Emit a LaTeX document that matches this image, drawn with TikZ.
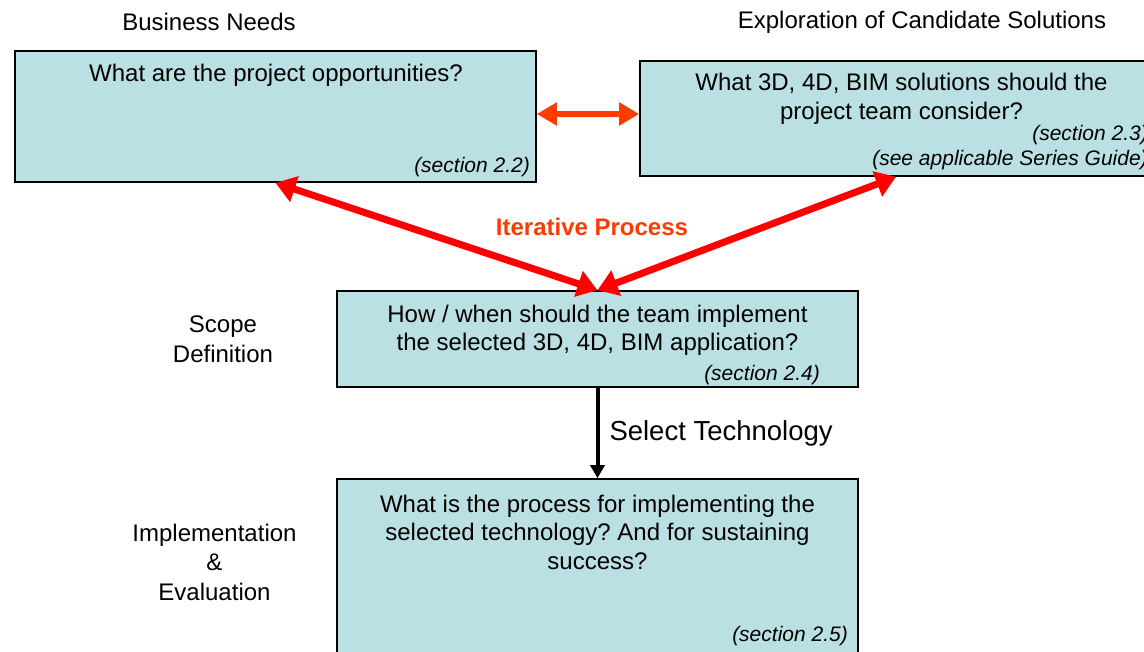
\documentclass[tikz,border=0pt]{standalone}
\usepackage{fontspec}
\setmainfont{Liberation Sans}
\usetikzlibrary{arrows.meta,positioning}
\definecolor{boxblue}{HTML}{BBE0E3}
\definecolor{iterorange}{HTML}{FF3C00}
\definecolor{iterred}{HTML}{FF0000}
\frenchspacing

\begin{document}
\begin{tikzpicture}[x=1pt,y=-1pt,
	qbox/.style={draw=black, line width=1.6pt, fill=boxblue, inner sep=0pt},
	qtext/.style={align=center, inner sep=0pt, font=\fontsize{24}{28.5}\selectfont},
	sect/.style={anchor=east, inner sep=0pt, font=\fontsize{21}{25}\selectfont\itshape},
	phase/.style={align=center, inner sep=0pt, font=\fontsize{24}{29.5}\selectfont},
	redarrow/.style={draw=iterred, line width=7pt,
		{Triangle[width=26pt,length=20pt]}-{Triangle[width=26pt,length=20pt]}}
]
	\useasboundingbox (0,0) rectangle (1144,652);
	\clip (0,0) rectangle (1144,652);
	% question boxes
	\node[qbox, minimum width=521pt, minimum height=131pt] (needs) at (275.5,116.5) {};
	\node[qbox, minimum width=512pt, minimum height=115pt] (explore) at (896,118.5) {};
	\node[qbox, minimum width=521pt, minimum height=96pt] (scope) at (597.5,339) {};
	\node[qbox, minimum width=521pt, minimum height=190pt] (impl) at (597.5,574) {};
	% texts in the boxes
	\node[qtext] (needsq) at (276,75) {What are the project opportunities?};
	\node[sect] (needss) at (530,167) {(section 2.2)};
	\node[qtext] (exploreq) at (901.5,99) {What 3D, 4D, BIM solutions should the\\project team consider?};
	\node[sect] (explores) at (1148,135) {(section 2.3)};
	\node[sect] (exploreg) at (1148,160) {(see applicable Series Guide)};
	\node[qtext] (scopeq) at (597.5,330.5) {How / when should the team implement\\the selected 3D, 4D, BIM application?};
	\node[sect] (scopes) at (820,375) {(section 2.4)};
	\node[qtext] (implq) at (597.5,532) {What is the process for implementing the\\selected technology? And for sustaining\\success?};
	\node[sect] (impls) at (848,636) {(section 2.5)};
	% headings
	\node[phase] (needsh) at (209,22) {Business Needs};
	\node[phase] (exploreh) at (922,22) {Exploration of Candidate Solutions};
	\node[phase] (scopeh) at (223,339) {Scope\\Definition};
	\node[phase] (implh) at (214.5,562) {Implementation\\\&\\Evaluation};
	% arrows
	\draw[draw=iterorange, line width=6pt,
		{Triangle[width=22pt,length=20pt]}-{Triangle[width=22pt,length=20pt]}]
		(needs.east |- 0,114) -- (explore.west |- 0,114);
	\draw[redarrow] (needs.south) -- (scope.north);
	\draw[redarrow] (explore.south) -- (scope.north);
	\node[text=iterorange, inner sep=0pt, font=\fontsize{24}{28}\selectfont\bfseries] (iter) at (592,227) {Iterative Process};
	\draw[line width=4pt, -{Triangle[width=14pt,length=13pt]}] (scope.south) -- (impl.north)
		node[midway, right=10pt, inner sep=0pt, font=\fontsize{27.5}{32}\selectfont] (select) {Select Technology};
\end{tikzpicture}
\end{document}
